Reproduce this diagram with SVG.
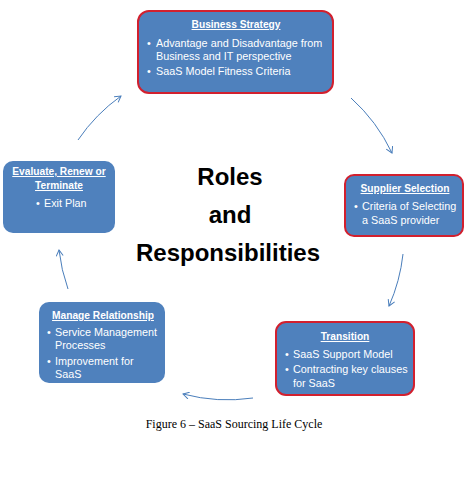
<svg xmlns="http://www.w3.org/2000/svg" width="469" height="501" viewBox="0 0 469 501">
  <style>
    .box { fill: #4F81BD; }
    .hot { stroke: #D2202E; stroke-width: 2; }
    .title { font-family: "Liberation Sans", Arial, sans-serif; font-weight: bold; font-size: 10.2px; fill: #FFFFFF; text-anchor: middle; text-decoration: underline; }
    .item { font-family: "Liberation Sans", Arial, sans-serif; font-size: 10.8px; fill: #FFFFFF; }
    .center { font-family: "Liberation Sans", Arial, sans-serif; font-weight: bold; font-size: 24px; fill: #000000; text-anchor: middle; }
    .caption { font-family: "Liberation Serif", "Times New Roman", serif; font-size: 12px; fill: #000000; text-anchor: middle; }
    .conn { fill: none; stroke: #4A7EBB; stroke-width: 1; marker-end: url(#chev); }
  </style>
  <defs>
    <marker id="chev" viewBox="0 0 8 8" refX="7" refY="4" markerWidth="8" markerHeight="8" markerUnits="userSpaceOnUse" orient="auto">
      <path d="M1,0.5 L7,4 L1,7.5" fill="none" stroke="#4A7EBB" stroke-width="1"/>
    </marker>
  </defs>
  <rect width="469" height="501" fill="#FFFFFF"/>

  <!-- cycle connectors -->
  <g id="connectors">
    <path class="conn" d="M78,140 A175,175 0 0 1 121,96"/>
    <path class="conn" d="M351,98 A175,175 0 0 1 392,153"/>
    <path class="conn" d="M403,254 A175,175 0 0 1 389,306"/>
    <path class="conn" d="M253,398 A175,175 0 0 1 183,394"/>
    <path class="conn" d="M68,289 A175,175 0 0 1 59,250"/>
  </g>

  <g id="business-strategy">
    <rect class="box hot" x="138" y="11" width="195" height="82" rx="11"/>
    <text class="title" x="236" y="28">Business Strategy</text>
    <text class="item" x="147" y="47">•</text>
    <text class="item" x="156" y="47">Advantage and Disadvantage from</text>
    <text class="item" x="156" y="60">Business and IT perspective</text>
    <text class="item" x="147" y="75">•</text>
    <text class="item" x="156" y="75">SaaS Model Fitness Criteria</text>
  </g>

  <g id="supplier-selection">
    <rect class="box hot" x="345" y="175" width="118" height="61" rx="9"/>
    <text class="title" x="405" y="192">Supplier Selection</text>
    <text class="item" x="354" y="210">•</text>
    <text class="item" x="362" y="210">Criteria of Selecting</text>
    <text class="item" x="362" y="224">a SaaS provider</text>
  </g>

  <g id="transition">
    <rect class="box hot" x="276" y="322" width="138" height="73" rx="10"/>
    <text class="title" x="345" y="340">Transition</text>
    <text class="item" x="285" y="358">•</text>
    <text class="item" x="293" y="358">SaaS Support Model</text>
    <text class="item" x="285" y="373">•</text>
    <text class="item" x="293" y="373">Contracting key clauses</text>
    <text class="item" x="293" y="387">for SaaS</text>
  </g>

  <g id="manage-relationship">
    <rect class="box" x="39" y="302" width="126" height="81" rx="10"/>
    <text class="title" x="103" y="319">Manage Relationship</text>
    <text class="item" x="47" y="336">•</text>
    <text class="item" x="55" y="336">Service Management</text>
    <text class="item" x="55" y="349">Processes</text>
    <text class="item" x="47" y="365">•</text>
    <text class="item" x="55" y="365">Improvement for</text>
    <text class="item" x="55" y="378">SaaS</text>
  </g>

  <g id="evaluate-renew-terminate">
    <rect class="box" x="3" y="161" width="112" height="72" rx="10"/>
    <text class="title" x="59" y="175">Evaluate, Renew or</text>
    <text class="title" x="59" y="189">Terminate</text>
    <text class="item" x="36" y="207">•</text>
    <text class="item" x="44" y="207">Exit Plan</text>
  </g>

  <g id="roles-and-responsibilities">
    <text class="center" x="230" y="185">Roles</text>
    <text class="center" x="230" y="223">and</text>
    <text class="center" x="228" y="261">Responsibilities</text>
  </g>

  <text class="caption" x="234" y="428">Figure 6 – SaaS Sourcing Life Cycle</text>
</svg>
